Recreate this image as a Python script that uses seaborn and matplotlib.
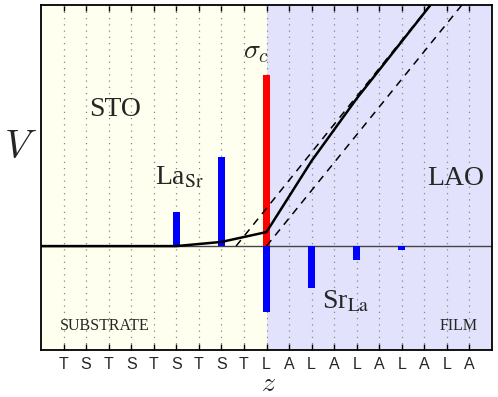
import numpy as np
import pandas as pd
import matplotlib
matplotlib.use("Agg")
import matplotlib.pyplot as plt
import seaborn as sns

# layer sequence along z (substrate TiO2 / SrO ... film LaO / AlO2)
layers = ["T", "S", "T", "S", "T", "S", "T", "S", "T",
          "L", "A", "L", "A", "L", "A", "L", "A", "L", "A"]

# La on Sr sites (substrate side), positive bars
la_sr_z = [5, 7]
la_sr_v = [0.33, 0.86]

# Sr on La sites (film side), negative bars
sr_la_z = [9, 11, 13, 15]
sr_la_v = [-0.63, -0.40, -0.135, -0.04]

# interface charge sigma_c
sigma_z = [9]
sigma_v = [1.65]

# electrostatic potential V(z)
pot_z = [-1, 5, 7, 9, 11, 13, 15, 17]
pot_v = [0.0, 0.0, 0.04, 0.135, 0.82, 1.42, 1.97, 2.52]

# ideal (undoped) potential lines
ideal1_z = [7.65, 16.3]
ideal1_v = [0.0, 2.33]
ideal2_z = [9.0, 17.7]
ideal2_v = [0.0, 2.33]

sns.set_style("white")
plt.rcParams["mathtext.fontset"] = "stix"
plt.rcParams["font.family"] = ["Liberation Serif", "DejaVu Serif"]

fig = plt.figure(figsize=(4.98, 3.97), dpi=100)
ax = fig.add_axes([41 / 498, 1 - 350 / 397, 451 / 498, 345 / 397])

ax.axvspan(-1, 9, color="#FFFFF0", zorder=0, lw=0)
ax.axvspan(9, 19, color="#E2E2FC", zorder=0, lw=0)

for i in range(len(layers)):
    ax.axvline(i, color="#888888", ls=(0, (1, 4)), lw=0.9, zorder=1)

ax.axhline(0, color="#444444", lw=1.0, zorder=2)

bars = pd.DataFrame({
    "z": la_sr_z + sr_la_z + sigma_z,
    "v": la_sr_v + sr_la_v + sigma_v,
    "kind": ["LaSr"] * len(la_sr_z) + ["SrLa"] * len(sr_la_z) + ["sigma"] * len(sigma_z),
})
for kind, col in [("LaSr", "#0000FF"), ("SrLa", "#0000FF"), ("sigma", "#FF0000")]:
    sub = bars[bars["kind"] == kind]
    ax.bar(sub["z"], sub["v"], width=0.32, color=col, lw=0, zorder=3)

sns.lineplot(x=ideal1_z, y=ideal1_v, ax=ax, color="black", lw=1.1,
             zorder=4).lines[-1].set_dashes((5, 4))
sns.lineplot(x=ideal2_z, y=ideal2_v, ax=ax, color="black", lw=1.1,
             zorder=4).lines[-1].set_dashes((5, 4))
sns.lineplot(x=pot_z, y=pot_v, ax=ax, color="black", lw=1.8, zorder=5)

ax.set_xlim(-1, 19)
ax.set_ylim(-1.0, 2.32)
ax.set_xticks(range(len(layers)))
ax.set_xticklabels(layers, family=["Liberation Sans", "DejaVu Sans"], fontsize=11.5)
ax.set_yticks([])
ax.set_xlabel("")
ax.set_ylabel("")
ax.tick_params(axis="x", direction="in", length=4, width=1, top=True, bottom=True,
               pad=5, color="black")
for s in ax.spines.values():
    s.set_linewidth(1.3)
    s.set_color("black")

fig.text(20 / 498, 1 - 149 / 397, "$V$", fontsize=29, math_fontfamily="cm",
         ha="center", va="center")
fig.text(268 / 498, 1 - 391 / 397, "$z$", fontsize=20, math_fontfamily="cm",
         ha="center", va="baseline")

fig.text(115 / 498, 1 - 109 / 397, "STO", fontsize=20, ha="center", va="center")
fig.text(456 / 498, 1 - 178 / 397, "LAO", fontsize=20, ha="center", va="center")
fig.text(180 / 498, 1 - 178 / 397, "La$_{\\rm Sr}$", fontsize=20,
         ha="center", va="center")
fig.text(346 / 498, 1 - 302 / 397, "Sr$_{\\rm La}$", fontsize=20,
         ha="center", va="center")
fig.text(256 / 498, 1 - 52 / 397, "$\\sigma_c$", fontsize=20, math_fontfamily="cm",
         ha="center", va="center")
fig.text(105 / 498, 1 - 326 / 397, "SUBSTRATE", fontsize=11.5, ha="center", va="center")
fig.text(459 / 498, 1 - 326 / 397, "FILM", fontsize=11.5, ha="center", va="center")

fig.savefig("out.png", dpi=100)
